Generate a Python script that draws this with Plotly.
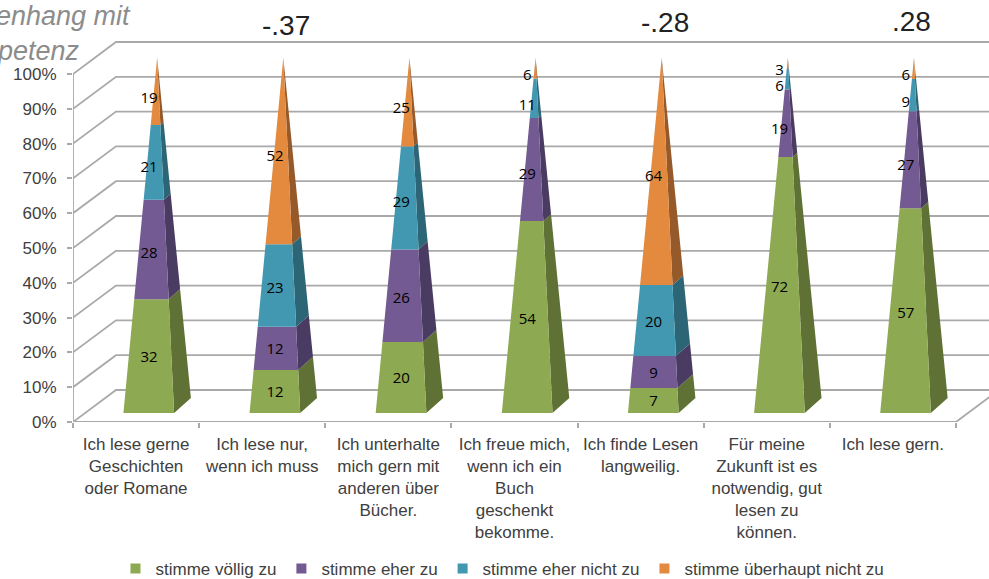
import plotly.graph_objects as go

categories = [
    "Ich lese gerne<br>Geschichten<br>oder Romane",
    "Ich lese nur,<br>wenn ich muss",
    "Ich unterhalte<br>mich gern mit<br>anderen über<br>Bücher.",
    "Ich freue mich,<br>wenn ich ein<br>Buch<br>geschenkt<br>bekomme.",
    "Ich finde Lesen<br>langweilig.",
    "Für meine<br>Zukunft ist es<br>notwendig, gut<br>lesen zu<br>können.",
    "Ich lese gern.",
]
voellig = [32, 12, 20, 54, 7, 72, 57]
eher = [28, 12, 26, 29, 9, 19, 27]
eher_nicht = [21, 23, 29, 11, 20, 6, 9]
ueberhaupt_nicht = [19, 52, 25, 6, 64, 3, 6]
series_names = ["stimme völlig zu", "stimme eher zu", "stimme eher nicht zu", "stimme überhaupt nicht zu"]
front_colors = ["#8DA952", "#735A92", "#4298B1", "#E38A3F"]
side_colors = ["#5F7134", "#4A3B62", "#2C6575", "#95592A"]
percent_ticks = list(range(0, 101, 10))

series = [voellig, eher, eher_nicht, ueberhaupt_nicht]

# plot-frame: x in category units, y in percent
PX_PER_CAT = 126.2
PX_PER_PCT = 3.48
W, H = 989, 579
LEFT, FLOOR = 72.5, 422
xmax = (W - LEFT) / PX_PER_CAT
ymax = FLOOR / PX_PER_PCT
n = len(categories)

WALL_DX = 43 / PX_PER_CAT
WALL_DY = 32 / PX_PER_PCT
CENTER_U = 84.2 / PX_PER_CAT
CENTER_P = 16.5 / PX_PER_PCT
HALF_W = 25.35 / PX_PER_CAT
HALF_DX = 8.4 / PX_PER_CAT
HALF_DY = 7.5 / PX_PER_PCT
LABEL_U = 76 / PX_PER_CAT
LABEL_DP = 2.3


def corner(i, p, lateral, depth):
    s = 1 - p / 100
    return (i + CENTER_U + s * (lateral * HALF_W + depth * HALF_DX),
            CENTER_P + p + s * depth * HALF_DY)


fig = go.Figure()

# walls and floor
gx, gy = [], []
for p in percent_ticks:
    gx += [0, WALL_DX, xmax, None]
    gy += [p, p + WALL_DY, p + WALL_DY, None]
gx += [0, 0, None, 0, n, n + WALL_DX]
gy += [0, 100, None, 0, 0, WALL_DY]
fig.add_trace(go.Scatter(x=gx, y=gy, mode="lines", hoverinfo="skip", showlegend=False,
                         line=dict(color="#A9A9A9", width=1.8), cliponaxis=True))

# pyramid segments
total = [sum(s[i] for s in series) for i in range(n)]
text_x, text_y, text_v = [], [], []
for k, values in enumerate(series):
    fx, fy, sx, sy = [], [], [], []
    for i, v in enumerate(values):
        base = sum(series[j][i] for j in range(k)) / total[i] * 100
        top = base + v / total[i] * 100
        a = corner(i, base, -1, -1); b = corner(i, base, 1, -1)
        c = corner(i, top, 1, -1); d = corner(i, top, -1, -1)
        fx += [a[0], b[0], c[0], d[0], a[0], None]
        fy += [a[1], b[1], c[1], d[1], a[1], None]
        e = corner(i, base, 1, 1); g = corner(i, top, 1, 1)
        sx += [b[0], e[0], g[0], c[0], b[0], None]
        sy += [b[1], e[1], g[1], c[1], b[1], None]
        text_x.append(i + LABEL_U)
        text_y.append((base + top) / 2 + LABEL_DP)
        text_v.append(str(v))
    fig.add_trace(go.Scatter(x=sx, y=sy, mode="lines", fill="toself", fillcolor=side_colors[k],
                             line=dict(width=0), hoverinfo="skip", showlegend=False))
    fig.add_trace(go.Scatter(x=fx, y=fy, mode="lines", fill="toself", fillcolor=front_colors[k],
                             line=dict(width=0), hoverinfo="skip", showlegend=False))

fig.add_trace(go.Scatter(x=text_x, y=text_y, text=text_v, mode="text", showlegend=False,
                         hoverinfo="skip", textposition="middle center",
                         textfont=dict(family="Open Sans, Noto Sans, sans-serif", size=15, color="#000000")))

for k, name in enumerate(series_names):
    fig.add_trace(go.Scatter(x=[None], y=[None], mode="markers", name=name,
                             marker=dict(symbol="square", size=10, color=front_colors[k])))


def paper_x(px):
    return (px - LEFT) / (W - LEFT)


def paper_y(py):
    return (FLOOR - py) / FLOOR


notes = [
    ("-.37", 285.5, 26, 28, "center", "normal", "#222222"),
    ("-.28", 664.5, 23, 28, "center", "normal", "#222222"),
    (".28", 911, 21, 28, "center", "normal", "#222222"),
    ("enhang mit", 133, 16, 27, "right", "italic", "#8C8C8C"),
    ("petenz", 82, 51, 27, "right", "italic", "#8C8C8C"),
]
annotations = [
    dict(text=t, x=paper_x(x), y=paper_y(y), xref="paper", yref="paper", xanchor=a, yanchor="middle",
         showarrow=False, font=dict(family="Liberation Sans", size=s, color=c, style=st))
    for t, x, y, s, a, st, c in notes
]

fig.update_layout(
    width=W, height=H, paper_bgcolor="white", plot_bgcolor="white",
    margin=dict(l=LEFT, r=0, t=0, b=H - FLOOR, autoexpand=False),
    font=dict(family="Liberation Sans", color="#404040", size=17),
    annotations=annotations,
    legend=dict(orientation="h", x=paper_x(115), xanchor="left", y=(FLOOR - 569) / FLOOR, yanchor="middle",
                font=dict(size=17, color="#404040"), itemwidth=30, bgcolor="rgba(0,0,0,0)"),
    xaxis=dict(range=[0, xmax], showgrid=False, zeroline=False, showline=False,
               tickmode="array", tickvals=[i + 0.5 for i in range(n)], ticktext=categories,
               ticks="", tickangle=0, tickfont=dict(size=17, color="#404040"), ticklabelstandoff=10,
               minor=dict(tickmode="array", tickvals=list(range(n + 1)), ticks="outside", ticklen=5,
                          tickwidth=1.5, tickcolor="#A9A9A9", showgrid=False)),
    yaxis=dict(range=[0, ymax], showgrid=False, zeroline=False, showline=False,
               tickmode="array", tickvals=percent_ticks, ticktext=[f"{p}%" for p in percent_ticks],
               ticks="outside", ticklen=5, tickwidth=1.5, tickcolor="#A9A9A9", ticklabelstandoff=7,
               tickfont=dict(size=17, color="#404040")),
)

fig.write_html("out.html", config={"displayModeBar": False},
               post_script="document.body.style.margin='0';document.body.style.overflow='hidden';")
